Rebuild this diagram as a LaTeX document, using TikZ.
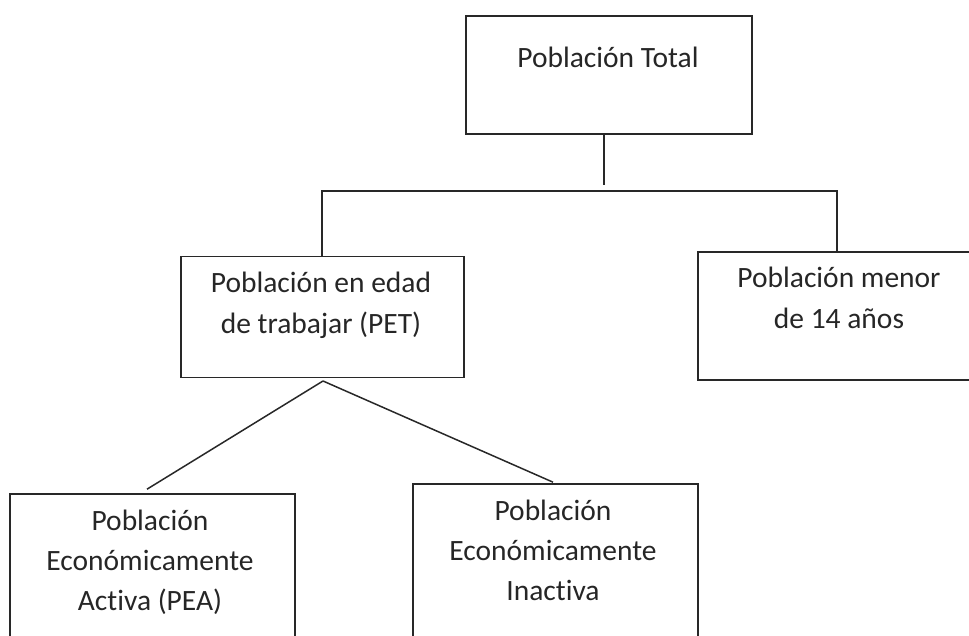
\documentclass[tikz,border=0pt]{standalone}
\usepackage{fontspec}
\setmainfont{Carlito}[Ligatures={NoCommon,NoContextual}]
\definecolor{txt}{RGB}{38,38,38}
\definecolor{ln}{RGB}{40,40,40}
\newcommand{\boxtext}[1]{\begin{tabular}[t]{@{}c@{}}#1\end{tabular}}
\tikzset{
  orgbox/.style={draw=ln, line width=1.6pt, rectangle, inner sep=0pt},
  lbl/.style={anchor=base, inner sep=0pt, text=txt, font=\fontsize{29.5}{40}\selectfont},
  conn/.style={draw=ln, line width=1.5pt}
}
\begin{document}
\begin{tikzpicture}[x=1pt,y=-1pt]
\useasboundingbox (0,0) rectangle (969,636);
\clip (0,0) rectangle (969,636);
% boxes
\node[orgbox, minimum width=286pt, minimum height=118pt] (top) at (609,75) {};
\node[orgbox, minimum width=283pt, minimum height=121pt] (pet) at (322.5,317) {};
\node[orgbox, minimum width=312pt, minimum height=128pt] (minor) at (854,316) {};
\node[orgbox, minimum width=285pt, minimum height=206pt] (pea) at (152.5,597) {};
\node[orgbox, minimum width=285pt, minimum height=216pt] (pei) at (555.5,592) {};
% texts
\node[lbl] (ttop) at (608,68) {\boxtext{Población Total}};
\node[lbl] (tpet) at (321,293) {\boxtext{Población en edad\\ de trabajar (PET)}};
\node[lbl] (tminor) at (839,288) {\boxtext{Población menor\\ de 14 años}};
\node[lbl] (tpea) at (150,530) {\boxtext{Población\\ Económicamente\\ Activa (PEA)}};
\node[lbl] (tpei) at (553,520) {\boxtext{Población\\ Económicamente\\ Inactiva}};
% connectors
\coordinate (jt) at (604,185);
\coordinate (hl) at (322,191);
\coordinate (hr) at (837,191);
\coordinate (apex) at (323,381);
\draw[conn] (top.south -| jt) -- (jt);
\draw[conn] (pet.north -| hl) -- (hl) -- (hr) -- (minor.north -| hr);
\draw[conn] (apex) -- ([yshift=4pt]pea.north -| 147,0);
\draw[conn] (apex) -- ([yshift=1pt]pei.north -| 553,0);
\end{tikzpicture}
\end{document}
